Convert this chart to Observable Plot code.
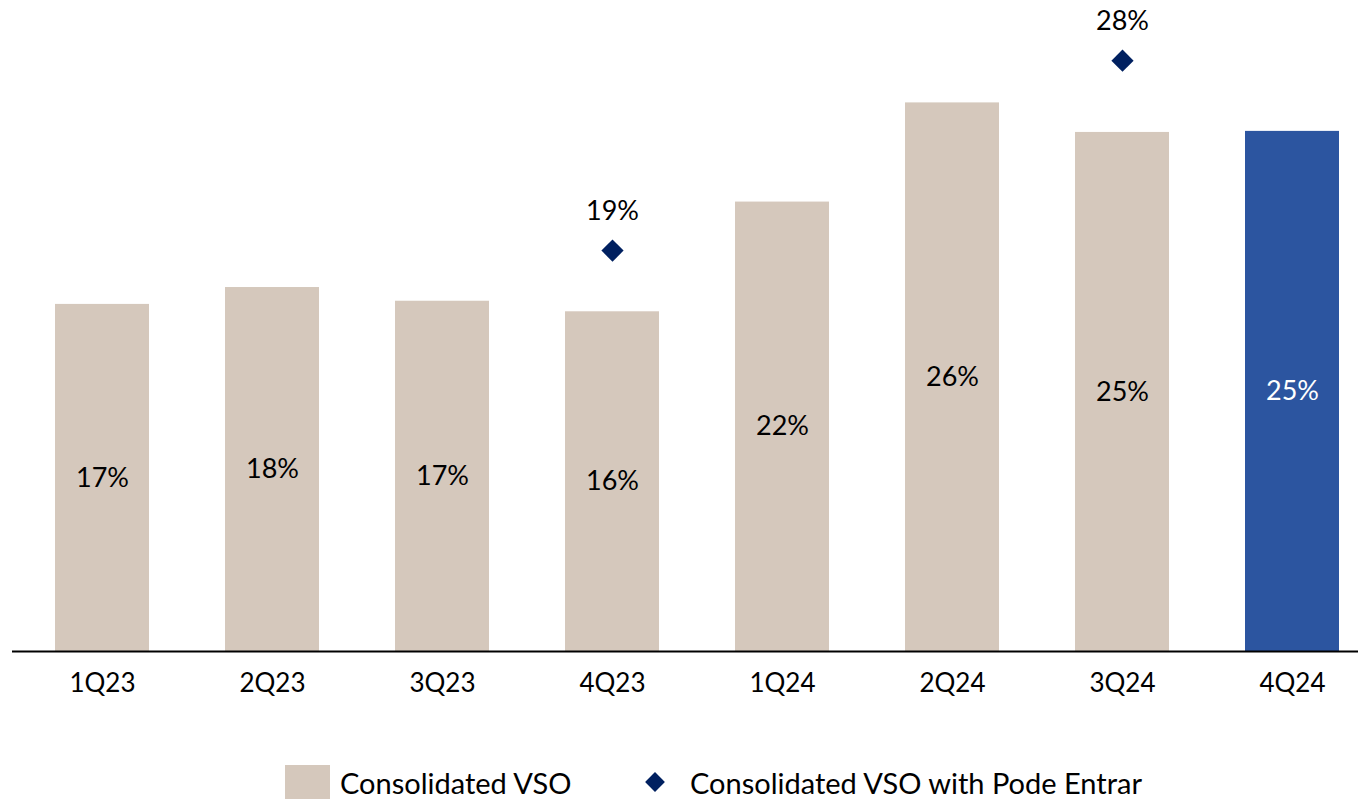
<!DOCTYPE html>
<html>
<head>
<meta charset="utf-8">
<script src="https://cdn.jsdelivr.net/npm/d3@7"></script>
<script src="https://cdn.jsdelivr.net/npm/@observablehq/plot@0.6"></script>
<style>
  html, body { margin: 0; padding: 0; background: #fff; }
  body { width: 1358px; height: 804px; overflow: hidden; font-family: Lato, "Noto Sans", sans-serif; }
  #legend { position: relative; height: 54px; font-size: 29px; color: #000; }
  .item { position: absolute; top: 0; height: 64px; display: flex; align-items: center; }
  .sw { width: 45px; height: 34px; background: #d5c8bc; margin-right: 10px; }
  .dia { width: 14px; height: 14px; background: #002060; transform: rotate(45deg); margin: 0 28px 0 3px; }
</style>
</head>
<body>
<div id="chart"></div>
<div id="legend">
  <div class="item" style="left:285px"><div class="sw"></div><span>Consolidated VSO</span></div>
  <div class="item" style="left:645px"><div class="dia"></div><span>Consolidated VSO with Pode Entrar</span></div>
</div>
<script>
const quarters = ["1Q23","2Q23","3Q23","4Q23","1Q24","2Q24","3Q24","4Q24"];
const vsoValues = [16.45, 17.25, 16.6, 16.1, 21.3, 26.0, 24.6, 24.65];
const vsoLabels = ["17%","18%","17%","16%","22%","26%","25%","25%"];
const podeQuarters = ["4Q23","3Q24"];
const podeValues = [19.0, 28.0];
const podeLabels = ["19%","28%"];

const bars = quarters.map((q, i) => ({q, v: vsoValues[i], label: vsoLabels[i], last: i === quarters.length - 1}));
const pode = podeQuarters.map((q, i) => ({q, v: podeValues[i], label: podeLabels[i]}));

const chart = Plot.plot({
  width: 1358,
  height: 750,
  marginLeft: 12,
  marginRight: 0,
  marginTop: 0,
  marginBottom: 99,
  style: {fontFamily: "Lato, 'Noto Sans', sans-serif", fontSize: "26px", color: "#000", background: "#fff"},
  x: {domain: quarters, range: [17, 1377], paddingInner: 0.447, paddingOuter: 0.2235, label: null},
  y: {domain: [0, 30], range: [651, 18], axis: null},
  marks: [
    Plot.barY(bars, {x: "q", y: "v", fill: d => d.last ? "#2c55a0" : "#d5c8bc"}),
    Plot.text(bars, {x: "q", y: d => d.v / 2, text: "label", fill: d => d.last ? "#fff" : "#000", fontSize: 27}),
    Plot.dot(pode, {x: "q", y: "v", symbol: "diamond2", r: 10, fill: "#002060", stroke: null}),
    Plot.text(pode, {x: "q", y: "v", text: "label", dy: -39, fontSize: 27, fill: "#000"}),
    Plot.ruleY([0], {stroke: "#000", strokeWidth: 2}),
    Plot.axisX({tickSize: 0, tickPadding: 22, fontSize: 26, label: null})
  ]
});
document.getElementById("chart").appendChild(chart);
</script>
</body>
</html>
